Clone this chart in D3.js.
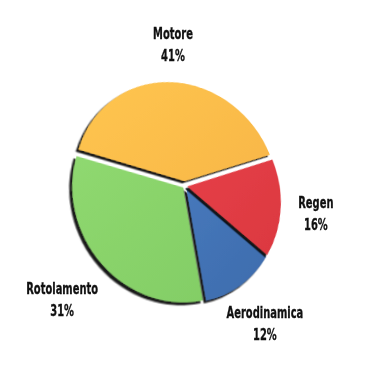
<!DOCTYPE html>
<html>
<head>
<meta charset="utf-8">
<script src="https://cdn.jsdelivr.net/npm/d3@7"></script>
<style>
  body { margin: 0; background: #fff; }
  .wrap { position: relative; width: 365px; height: 365px; }
  .wrap svg { position: absolute; left: 0; top: 0; }
  .label { font-family: "DejaVu Sans Condensed", "DejaVu Sans", sans-serif; font-weight: bold; font-size: 16px; fill: #111; stroke: #111; stroke-width: 0.3px; }
</style>
</head>
<body>
<div class="wrap">
  <div id="pie"></div>
  <svg id="labels" width="365" height="365"></svg>
</div>
<script>
const LABELS = ['Motore', 'Regen', 'Aerodinamica', 'Rotolamento']
const VALUES = [41, 16, 12, 31]
const LIGHT = ['#ffc650', '#ef444d', '#4f86cb', '#93dc73']
const DARK = ['#f5b043', '#d9373f', '#3d6aab', '#7fca62']

const width = 365
const height = 365
const cx = 185
const cy = 186
const radius = 110
const start = -79 * Math.PI / 180

// the original is a tilted pie: top and right side lean away from the viewer
const persp = 400
const tiltX = 16
const tiltY = 18
const narrow = 0.968

const pieBox = d3.select('#pie')
  .style('position', 'absolute')
  .style('left', '0px').style('top', '0px')
  .style('width', width + 'px').style('height', height + 'px')
  .style('transform-origin', `${cx}px ${cy}px`)
  .style('transform', `scale(${narrow},1) perspective(${persp}px) rotateX(${tiltX}deg) rotateY(${tiltY}deg)`)

const svg = pieBox.append('svg')
  .attr('width', width)
  .attr('height', height)
const defs = svg.append('defs')

defs.append('filter')
    .attr('id', 'shadow')
    .attr('x', '-20%').attr('y', '-20%')
    .attr('width', '140%').attr('height', '140%')
  .append('feDropShadow')
    .attr('dx', -2.5).attr('dy', 2.5)
    .attr('stdDeviation', 0.4)
    .attr('flood-color', '#000')
    .attr('flood-opacity', 0.9)

LABELS.forEach((l, i) => {
  const g = defs.append('linearGradient')
    .attr('id', `grad-${i}`)
    .attr('gradientUnits', 'userSpaceOnUse')
    .attr('x1', -radius).attr('y1', -radius)
    .attr('x2', radius).attr('y2', radius)
  g.append('stop').attr('offset', '0%').attr('stop-color', LIGHT[i])
  g.append('stop').attr('offset', '100%').attr('stop-color', DARK[i])
})

const pie = d3.pie()
  .sort(null)
  .value(d => d.value)
  .startAngle(start)
  .endAngle(start + 2 * Math.PI)

const data = LABELS.map((label, i) => ({ label, value: VALUES[i], i }))
const arcs = pie(data)

const arc = d3.arc().innerRadius(0).outerRadius(radius)
const labelArc = d3.arc().innerRadius(158).outerRadius(158)

const explode = i => i === 0 ? 5 : 2.5
const mid = d => (d.startAngle + d.endAngle) / 2

const pieG = svg.append('g')
  .attr('transform', `translate(${cx},${cy})`)

// reverse order so each slice's shadow falls on the one drawn before it
pieG.selectAll('path')
  .data(arcs.slice().reverse())
  .join('path')
    .attr('d', arc)
    .attr('fill', d => `url(#grad-${d.data.i})`)
    .attr('filter', 'url(#shadow)')
    .attr('transform', d => {
      const e = explode(d.data.i)
      return `translate(${e * Math.sin(mid(d))},${-e * Math.cos(mid(d))})`
    })

// same tilt applied to the label anchor points
const project = ([x, y]) => {
  const ay = tiltY * Math.PI / 180
  const ax = tiltX * Math.PI / 180
  const x1 = x * Math.cos(ay)
  const z1 = -x * Math.sin(ay)
  const y2 = y * Math.cos(ax) - z1 * Math.sin(ax)
  const z2 = y * Math.sin(ax) + z1 * Math.cos(ax)
  const k = persp / (persp - z2)
  return [x1 * k * narrow, y2 * k]
}

const labels = d3.select('#labels').append('g')
  .attr('transform', `translate(${cx},${cy})`)
  .selectAll('text')
  .data(arcs)
  .join('text')
    .attr('class', 'label')
    .attr('text-anchor', 'middle')
    .attr('transform', d => `translate(${project(labelArc.centroid(d))}) scale(0.69,1)`)

labels.append('tspan').attr('x', 0).attr('y', -8).text(d => d.data.label)
labels.append('tspan').attr('x', 0).attr('y', 14).text(d => d.data.value + '%')
</script>
</body>
</html>
